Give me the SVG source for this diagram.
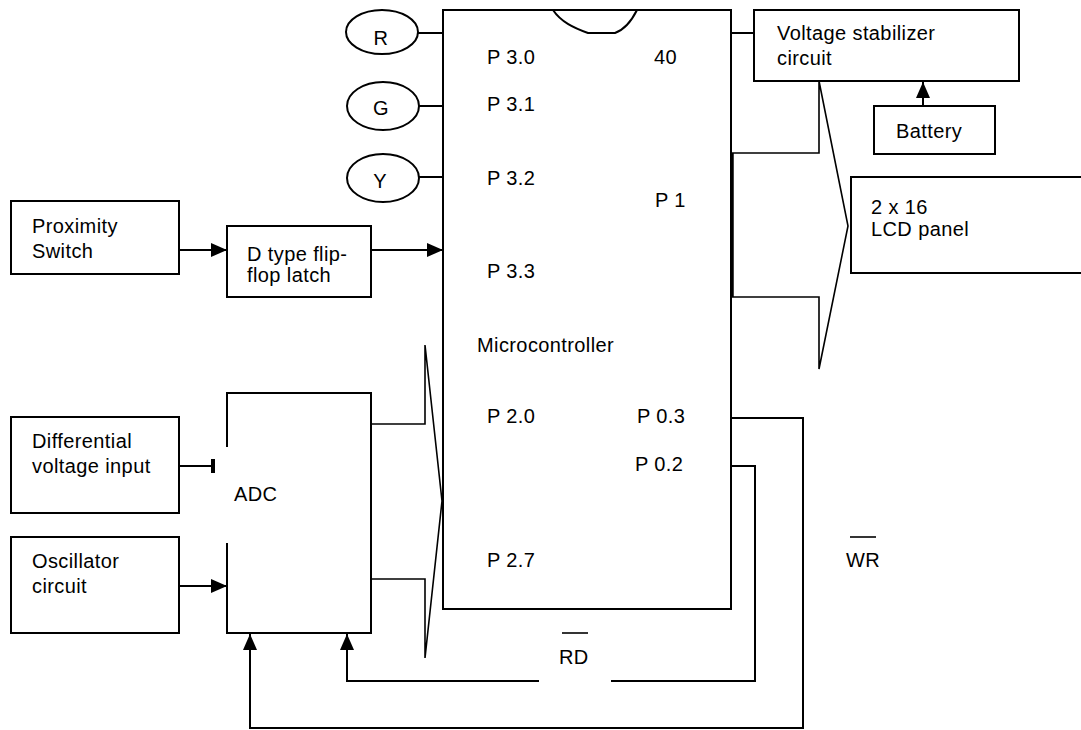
<svg xmlns="http://www.w3.org/2000/svg" width="1081" height="730" viewBox="0 0 1081 730">
<defs>
<style>
.b{fill:#fff;stroke:#000;stroke-width:2}
.o{fill:none;stroke:#000;stroke-width:2}
.c{fill:none;stroke:#000;stroke-width:2}
.bus{fill:none;stroke:#000;stroke-width:1.6}
text{font-family:"Liberation Sans",Arial,sans-serif;font-size:20px;letter-spacing:0.4px;fill:#000}
.m{text-anchor:middle}
</style>
<marker id="ah" markerWidth="16" markerHeight="14" refX="16" refY="7" orient="auto" markerUnits="userSpaceOnUse">
<path d="M0,0 L16,7 L0,14 Z" fill="#000"/>
</marker>
</defs>
<rect width="1081" height="730" fill="#fff"/>

<g id="connectors">
<line class="c" x1="418" y1="33" x2="443" y2="33"/>
<line class="c" x1="419" y1="106" x2="443" y2="106"/>
<line class="c" x1="419" y1="177" x2="443" y2="177"/>
<line class="c" x1="731" y1="33" x2="754" y2="33"/>
<line class="c" x1="923" y1="106" x2="923" y2="82" marker-end="url(#ah)"/>
<line class="c" x1="179" y1="250" x2="227" y2="250" marker-end="url(#ah)"/>
<line class="c" x1="371" y1="250" x2="443" y2="250" marker-end="url(#ah)"/>
<line class="c" x1="179" y1="466" x2="213" y2="466"/>
<rect x="211" y="459" width="4" height="14" fill="#000"/>
<line class="c" x1="179" y1="586" x2="227" y2="586" marker-end="url(#ah)"/>
<path class="bus" d="M371,424 H425 V345 L442,501 L425,658 V579 H371"/>
<path class="bus" d="M732,153 H819 V81 L848,226 L819,369 V297 H732"/>
<line x1="732" y1="153" x2="732" y2="297" stroke="#000" stroke-width="3.5"/>
<path class="c" d="M731,418 H803 V728 H250 V634" marker-end="url(#ah)"/>
<path class="c" d="M731,466 H755 V681 H347 V634" marker-end="url(#ah)"/>
</g>

<g id="mcu">
<rect class="b" x="443" y="10" width="288" height="599"/>
<path class="o" d="M553,10 C561,22 574,28 588,33 L615,33 C626,29 632,20 637,10"/>
<text x="487" y="64">P 3.0</text>
<text x="654" y="64">40</text>
<text x="487" y="111">P 3.1</text>
<text x="487" y="185">P 3.2</text>
<text x="655" y="207">P 1</text>
<text x="487" y="278">P 3.3</text>
<text x="477" y="352">Microcontroller</text>
<text x="487" y="423">P 2.0</text>
<text x="637" y="423">P 0.3</text>
<text x="635" y="471">P 0.2</text>
<text x="487" y="567">P 2.7</text>
</g>

<g id="led-r"><ellipse class="b" cx="382" cy="32" rx="36" ry="22"/><text class="m" x="381" y="45">R</text></g>
<g id="led-g"><ellipse class="b" cx="383" cy="106" rx="36" ry="24"/><text class="m" x="381" y="115">G</text></g>
<g id="led-y"><ellipse class="b" cx="383" cy="178" rx="36" ry="24"/><text class="m" x="380" y="188">Y</text></g>

<g id="vstab"><rect class="b" x="754" y="10" width="265" height="71"/><text x="777" y="40">Voltage stabilizer</text><text x="777" y="65">circuit</text></g>
<g id="battery"><rect class="b" x="874" y="106" width="121" height="48"/><text x="896" y="138">Battery</text></g>
<g id="lcd"><rect class="b" x="851" y="177" width="240" height="96"/><text x="871" y="214">2 x 16</text><text x="871" y="236">LCD panel</text></g>

<g id="prox"><rect class="b" x="11" y="201" width="168" height="73"/><text x="32" y="233">Proximity</text><text x="32" y="258">Switch</text></g>
<g id="dff"><rect class="b" x="227" y="226" width="144" height="71"/><text x="247" y="261">D type flip-</text><text x="247" y="282">flop latch</text></g>

<g id="diff"><rect class="b" x="11" y="417" width="168" height="96"/><text x="32" y="448">Differential</text><text x="32" y="473">voltage input</text></g>
<g id="osc"><rect class="b" x="11" y="537" width="168" height="96"/><text x="32" y="568">Oscillator</text><text x="32" y="593">circuit</text></g>

<g id="adc">
<path class="o" d="M227,447 V393 H371 V633 H227 V543"/>
<text x="234" y="501">ADC</text>
</g>

<g id="rd-label">
<rect x="539" y="676" width="72" height="8" fill="#fff"/>
<line x1="562" y1="633" x2="588" y2="633" stroke="#000" stroke-width="1.6"/>
<text x="559" y="664">RD</text>
</g>
<g id="wr-label">
<line x1="850" y1="537" x2="876" y2="537" stroke="#000" stroke-width="1.6"/>
<text x="846" y="567">WR</text>
</g>
</svg>
